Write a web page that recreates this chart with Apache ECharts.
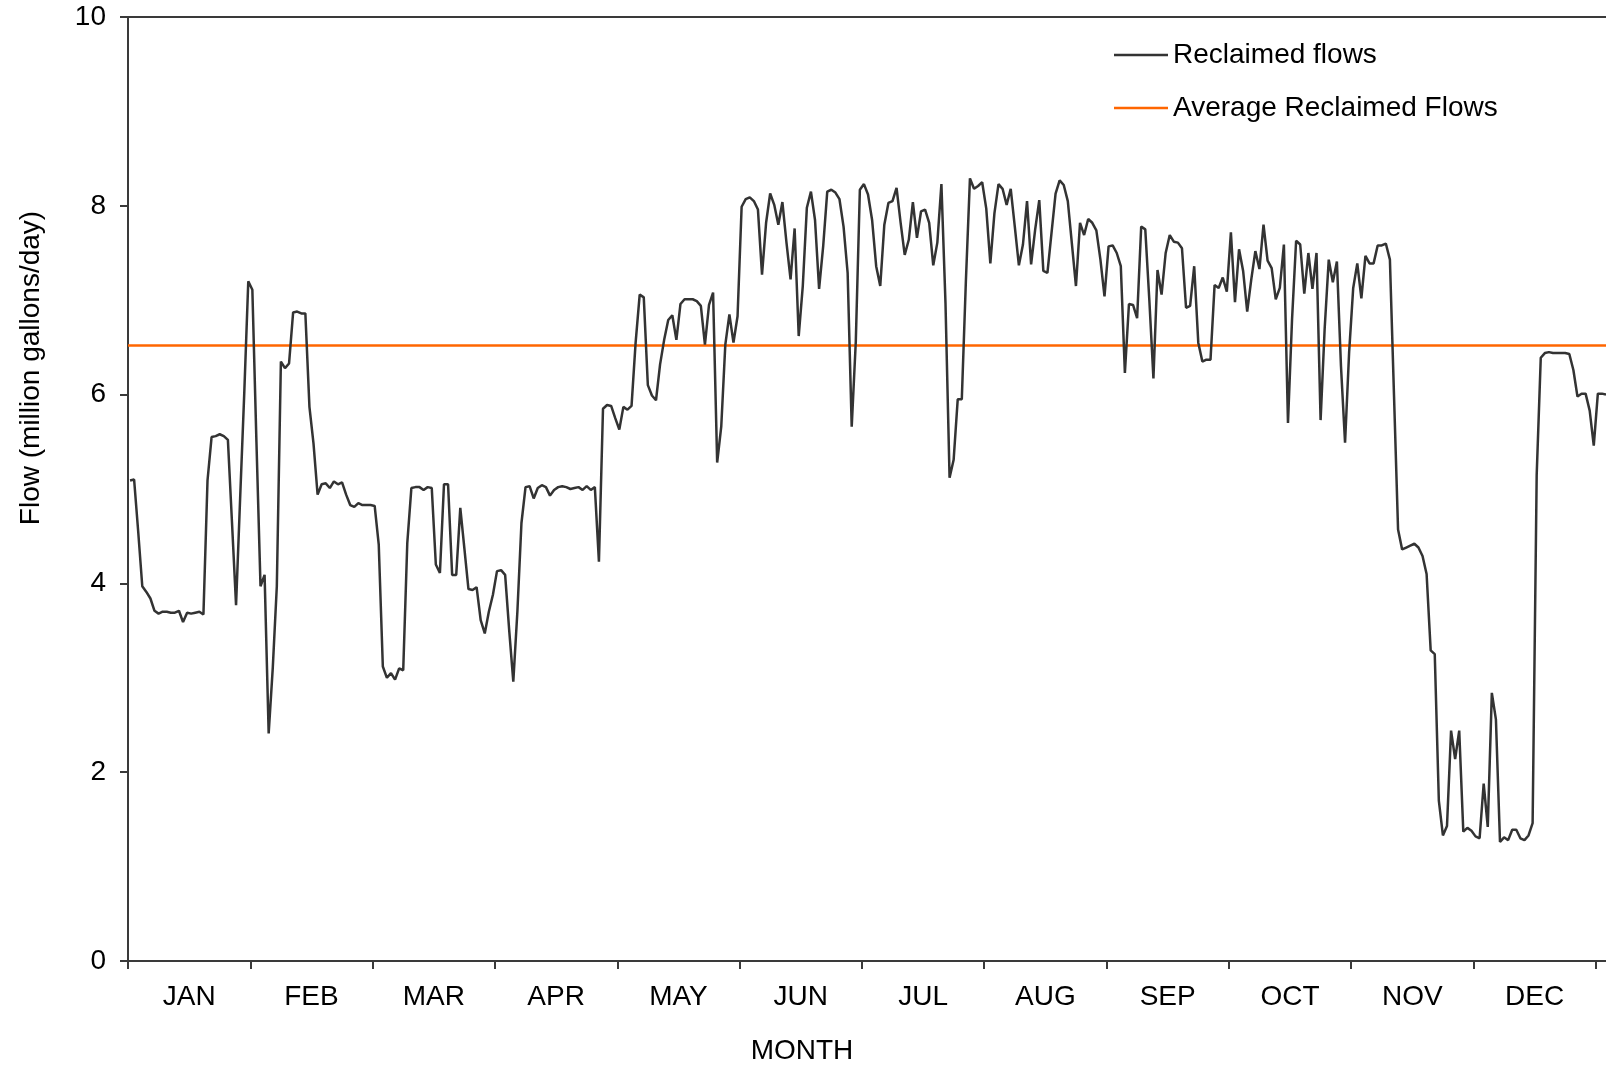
<!DOCTYPE html>
<html>
<head>
<meta charset="utf-8">
<title>Reclaimed flows</title>
<script src="https://cdn.jsdelivr.net/npm/echarts@6.0.0/dist/echarts.min.js"></script>
<style>
  html, body { margin: 0; padding: 0; background: #fff; }
  #chart { width: 1606px; height: 1067px; }
</style>
</head>
<body>
<div id="chart"></div>
<script>
// month bands on the x axis (one tick every 30 daily points)
var months = ["JAN", "FEB", "MAR", "APR", "MAY", "JUN", "JUL", "AUG", "SEP", "OCT", "NOV", "DEC"];
var pointsPerMonth = 30;
var yTicks = [0, 2, 4, 6, 8, 10];

// daily reclaimed flows, million gallons/day
var dailyFlows = [
  // JAN
  5.09, 5.10, 4.55, 3.97, 3.91, 3.84, 3.71, 3.68, 3.70, 3.70,
  3.69, 3.69, 3.71, 3.59, 3.69, 3.68, 3.69, 3.70, 3.67, 5.09,
  5.55, 5.56, 5.58, 5.56, 5.52, 4.65, 3.77, 4.90, 6.00, 7.20,
  // FEB
  7.11, 5.50, 3.97, 4.09, 2.41, 3.10, 3.97, 6.35, 6.28, 6.33,
  6.87, 6.88, 6.86, 6.86, 5.87, 5.48, 4.94, 5.05, 5.06, 5.01,
  5.08, 5.05, 5.07, 4.94, 4.83, 4.81, 4.85, 4.83, 4.83, 4.83,
  // MAR
  4.82, 4.41, 3.12, 3.00, 3.05, 2.98, 3.10, 3.08, 4.43, 5.01,
  5.02, 5.02, 4.99, 5.02, 5.01, 4.20, 4.11, 5.05, 5.05, 4.09,
  4.09, 4.80, 4.37, 3.94, 3.93, 3.96, 3.61, 3.47, 3.70, 3.88,
  // APR
  4.13, 4.14, 4.09, 3.50, 2.96, 3.70, 4.64, 5.02, 5.03, 4.90,
  5.01, 5.04, 5.02, 4.93, 4.99, 5.02, 5.03, 5.02, 5.00, 5.01,
  5.02, 4.99, 5.03, 4.99, 5.02, 4.23, 5.85, 5.89, 5.88, 5.75,
  // MAY
  5.63, 5.87, 5.84, 5.88, 6.55, 7.06, 7.03, 6.10, 5.99, 5.94,
  6.32, 6.58, 6.79, 6.84, 6.58, 6.96, 7.01, 7.01, 7.01, 6.99,
  6.94, 6.53, 6.95, 7.08, 5.28, 5.66, 6.53, 6.85, 6.55, 6.83,
  // JUN
  7.99, 8.07, 8.09, 8.05, 7.96, 7.27, 7.82, 8.13, 8.01, 7.80,
  8.04, 7.61, 7.22, 7.76, 6.62, 7.15, 7.98, 8.15, 7.85, 7.12,
  7.57, 8.15, 8.17, 8.14, 8.07, 7.78, 7.29, 5.66, 6.56, 8.17,
  // JUL
  8.23, 8.12, 7.85, 7.36, 7.15, 7.80, 8.03, 8.05, 8.19, 7.82,
  7.48, 7.64, 8.04, 7.66, 7.94, 7.96, 7.82, 7.37, 7.61, 8.23,
  6.97, 5.12, 5.31, 5.95, 5.95, 7.20, 8.29, 8.18, 8.21, 8.25,
  // AUG
  7.97, 7.39, 7.92, 8.23, 8.18, 8.01, 8.18, 7.78, 7.37, 7.59,
  8.05, 7.38, 7.75, 8.06, 7.31, 7.29, 7.71, 8.13, 8.27, 8.22,
  8.05, 7.60, 7.15, 7.82, 7.69, 7.86, 7.82, 7.74, 7.43, 7.04,
  // SEP
  7.57, 7.58, 7.50, 7.36, 6.23, 6.96, 6.95, 6.81, 7.78, 7.75,
  7.00, 6.17, 7.32, 7.06, 7.50, 7.69, 7.62, 7.61, 7.55, 6.92,
  6.94, 7.36, 6.55, 6.35, 6.37, 6.37, 7.16, 7.13, 7.24, 7.09,
  // OCT
  7.72, 6.98, 7.54, 7.31, 6.88, 7.22, 7.52, 7.33, 7.80, 7.42,
  7.34, 7.01, 7.13, 7.59, 5.70, 6.80, 7.63, 7.59, 7.07, 7.50,
  7.12, 7.50, 5.73, 6.70, 7.43, 7.19, 7.41, 6.30, 5.49, 6.45,
  // NOV
  7.13, 7.39, 7.02, 7.47, 7.39, 7.39, 7.58, 7.58, 7.60, 7.43,
  6.00, 4.57, 4.36, 4.38, 4.40, 4.42, 4.38, 4.29, 4.10, 3.29,
  3.25, 1.70, 1.33, 1.43, 2.44, 2.14, 2.44, 1.37, 1.41, 1.38,
  // DEC
  1.32, 1.30, 1.88, 1.42, 2.84, 2.56, 1.26, 1.31, 1.28, 1.39,
  1.39, 1.30, 1.28, 1.33, 1.46, 5.15, 6.39, 6.44, 6.45, 6.44,
  6.44, 6.44, 6.44, 6.43, 6.26, 5.98, 6.01, 6.01, 5.83, 5.46,
  6.01, 6.01, 6.00
];

var avgFlow = 6.52;

// the source picture is cut off just after the last month tick
var xMax = 362.5;

var tickValues = [];
var labelValues = [];
for (var m = 0; m <= months.length; m++) {
  tickValues.push(m * pointsPerMonth);
  if (m < months.length) labelValues.push(m * pointsPerMonth + pointsPerMonth / 2);
}

var flowData = dailyFlows.map(function (v, i) { return [i + 0.5, v]; });
var avgData = [[0, avgFlow], [xMax, avgFlow]];

var font = "'Liberation Sans', Arial, sans-serif";
var axisColor = "#3a3a3a";

var myChart = echarts.init(document.getElementById("chart"), null, { renderer: "canvas" });
myChart.setOption({
  animation: false,
  backgroundColor: "#ffffff",
  color: ["#333333", "#ff6600"],
  textStyle: { fontFamily: font },
  grid: { left: 128, right: 0, top: 17, bottom: 106 },
  legend: {
    data: ["Reclaimed flows", "Average Reclaimed Flows"],
    orient: "vertical",
    left: 1109,
    top: 36,
    icon: "rect",
    itemWidth: 54,
    itemHeight: 2.5,
    itemGap: 25,
    textStyle: { fontSize: 28, color: "#000", fontFamily: font, lineHeight: 28 }
  },
  xAxis: [
    {
      type: "value",
      min: 0,
      max: xMax,
      position: "bottom",
      splitLine: { show: false },
      axisLine: { show: true, lineStyle: { color: axisColor, width: 2 } },
      axisTick: { show: true, length: 8, lineStyle: { color: axisColor, width: 2 }, customValues: tickValues },
      axisLabel: {
        customValues: labelValues,
        margin: 22,
        fontSize: 28,
        color: "#000",
        fontFamily: font,
        formatter: function (v) {
          return months[Math.round((v - pointsPerMonth / 2) / pointsPerMonth)];
        }
      }
    },
    {
      type: "value",
      min: 0,
      max: xMax,
      position: "top",
      splitLine: { show: false },
      axisLine: { show: true, lineStyle: { color: axisColor, width: 2 } },
      axisTick: { show: false },
      axisLabel: { show: false }
    }
  ],
  yAxis: {
    type: "value",
    min: yTicks[0],
    max: yTicks[yTicks.length - 1],
    interval: 2,
    splitLine: { show: false },
    axisLine: { show: true, lineStyle: { color: axisColor, width: 2 } },
    axisTick: { show: true, length: 8, lineStyle: { color: axisColor, width: 2 } },
    axisLabel: { margin: 22, fontSize: 28, color: "#000", fontFamily: font }
  },
  graphic: [
    {
      type: "text",
      x: 31,
      y: 368,
      rotation: Math.PI / 2,
      style: {
        text: "Flow (million gallons/day)",
        fontSize: 28,
        fontFamily: font,
        fill: "#000",
        align: "center",
        verticalAlign: "middle"
      }
    },
    {
      type: "text",
      x: 802,
      y: 1051,
      style: {
        text: "MONTH",
        fontSize: 28,
        fontFamily: font,
        fill: "#000",
        align: "center",
        verticalAlign: "middle"
      }
    }
  ],
  series: [
    {
      name: "Reclaimed flows",
      type: "line",
      data: flowData,
      symbol: "none",
      lineStyle: { color: "#333333", width: 2.5 },
      z: 3
    },
    {
      name: "Average Reclaimed Flows",
      type: "line",
      data: avgData,
      symbol: "none",
      lineStyle: { color: "#ff6600", width: 2.5 },
      z: 2
    }
  ]
});
</script>
</body>
</html>
